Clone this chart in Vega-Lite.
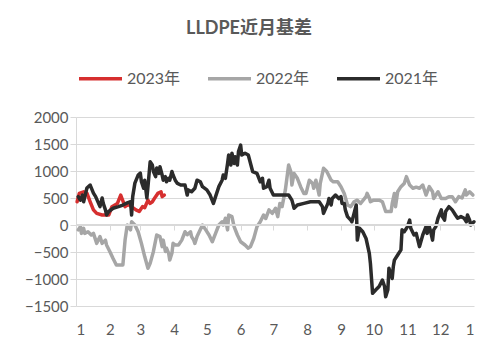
{
  "$schema": "https://vega.github.io/schema/vega-lite/v6.json",
  "width": 398,
  "height": 189,
  "autosize": {"type": "none"},
  "padding": {"left": 76, "top": 117, "right": 24, "bottom": 50},
  "background": "white",
  "config": {"view": {"stroke": null}, "font": "Lato",
    "axisY": {"values": [-1500,-1000,-500,0,500,1000,1500,2000], "format": "d", "labelOverlap": false, "labelBound": false, "grid": true, "gridColor": "#d9d9d9", "gridWidth": 1, "domain": true, "domainColor": "#d9d9d9", "tickColor": "#d9d9d9", "tickSize": 6, "labelPadding": 2, "labelFontSize": 15, "labelColor": "#595959", "labelFont": "Lato", "title": null}},
  "title": {"text": "LLDPE近月基差", "font": "Lato, Noto Sans CJK SC", "fontSize": 18, "fontWeight": "bold", "color": "#595959", "anchor": "middle", "dx": -26, "offset": 17},
  "data": {"values": [
    {"s":"2023年","d":1,"v":430},{"s":"2023年","d":3,"v":585},{"s":"2023年","d":7,"v":615},{"s":"2023年","d":10,"v":590},{"s":"2023年","d":13,"v":430},{"s":"2023年","d":16,"v":280},{"s":"2023年","d":19,"v":215},{"s":"2023年","d":24,"v":185},{"s":"2023年","d":30,"v":185},{"s":"2023年","d":33,"v":340},{"s":"2023年","d":38,"v":400},{"s":"2023年","d":41,"v":555},{"s":"2023年","d":42,"v":500},{"s":"2023年","d":45,"v":340},{"s":"2023年","d":48,"v":380},{"s":"2023年","d":55,"v":280},{"s":"2023年","d":58,"v":250},{"s":"2023年","d":61,"v":340},{"s":"2023年","d":63,"v":320},{"s":"2023年","d":66,"v":460},{"s":"2023年","d":68,"v":400},{"s":"2023年","d":70,"v":430},{"s":"2023年","d":73,"v":525},{"s":"2023年","d":75,"v":585},{"s":"2023年","d":78,"v":615},{"s":"2023年","d":79,"v":525},{"s":"2023年","d":81,"v":555},
    {"s":"2022年","d":2,"v":-90},{"s":"2022年","d":4,"v":-30},{"s":"2022年","d":5,"v":-155},{"s":"2022年","d":7,"v":-60},{"s":"2022年","d":8,"v":-155},{"s":"2022年","d":11,"v":-125},{"s":"2022年","d":14,"v":-185},{"s":"2022年","d":16,"v":-155},{"s":"2022年","d":19,"v":-340},{"s":"2022年","d":22,"v":-215},{"s":"2022年","d":24,"v":-340},{"s":"2022年","d":27,"v":-280},{"s":"2022年","d":28,"v":-370},{"s":"2022年","d":31,"v":-490},{"s":"2022年","d":34,"v":-620},{"s":"2022年","d":37,"v":-740},{"s":"2022年","d":43,"v":-740},{"s":"2022年","d":45,"v":-280},{"s":"2022年","d":47,"v":0},{"s":"2022年","d":50,"v":-90},{"s":"2022年","d":51,"v":60},{"s":"2022年","d":54,"v":0},{"s":"2022年","d":57,"v":-125},{"s":"2022年","d":60,"v":-340},{"s":"2022年","d":63,"v":-585},{"s":"2022年","d":66,"v":-800},{"s":"2022年","d":68,"v":-710},{"s":"2022年","d":71,"v":-490},{"s":"2022年","d":74,"v":-185},{"s":"2022年","d":77,"v":-215},{"s":"2022年","d":79,"v":-400},{"s":"2022年","d":80,"v":-280},{"s":"2022年","d":82,"v":-490},{"s":"2022年","d":83,"v":-430},{"s":"2022年","d":85,"v":-525},{"s":"2022年","d":86,"v":-650},{"s":"2022年","d":88,"v":-520},{"s":"2022年","d":89,"v":-340},{"s":"2022年","d":91,"v":-370},{"s":"2022年","d":94,"v":-370},{"s":"2022年","d":97,"v":-280},{"s":"2022年","d":100,"v":-125},{"s":"2022年","d":102,"v":-180},{"s":"2022年","d":105,"v":-125},{"s":"2022年","d":106,"v":-215},{"s":"2022年","d":108,"v":-280},{"s":"2022年","d":109,"v":-340},{"s":"2022年","d":111,"v":-215},{"s":"2022年","d":116,"v":0},{"s":"2022年","d":119,"v":-90},{"s":"2022年","d":122,"v":-185},{"s":"2022年","d":125,"v":-310},{"s":"2022年","d":128,"v":-155},{"s":"2022年","d":131,"v":0},{"s":"2022年","d":134,"v":60},{"s":"2022年","d":135,"v":0},{"s":"2022年","d":137,"v":125},{"s":"2022年","d":139,"v":-90},{"s":"2022年","d":140,"v":185},{"s":"2022年","d":143,"v":155},{"s":"2022年","d":145,"v":-30},{"s":"2022年","d":148,"v":-185},{"s":"2022年","d":151,"v":-310},{"s":"2022年","d":155,"v":-370},{"s":"2022年","d":158,"v":-430},{"s":"2022年","d":160,"v":-400},{"s":"2022年","d":163,"v":-250},{"s":"2022年","d":166,"v":-30},{"s":"2022年","d":169,"v":60},{"s":"2022年","d":172,"v":185},{"s":"2022年","d":174,"v":120},{"s":"2022年","d":177,"v":280},{"s":"2022年","d":180,"v":215},{"s":"2022年","d":183,"v":310},{"s":"2022年","d":185,"v":155},{"s":"2022年","d":187,"v":400},{"s":"2022年","d":189,"v":340},{"s":"2022年","d":192,"v":650},{"s":"2022年","d":195,"v":1110},{"s":"2022年","d":197,"v":990},{"s":"2022年","d":198,"v":740},{"s":"2022年","d":200,"v":955},{"s":"2022年","d":203,"v":865},{"s":"2022年","d":206,"v":710},{"s":"2022年","d":209,"v":585},{"s":"2022年","d":211,"v":585},{"s":"2022年","d":214,"v":830},{"s":"2022年","d":217,"v":770},{"s":"2022年","d":218,"v":680},{"s":"2022年","d":220,"v":830},{"s":"2022年","d":223,"v":555},{"s":"2022年","d":224,"v":770},{"s":"2022年","d":227,"v":1050},{"s":"2022年","d":230,"v":990},{"s":"2022年","d":234,"v":830},{"s":"2022年","d":236,"v":800},{"s":"2022年","d":240,"v":800},{"s":"2022年","d":243,"v":710},{"s":"2022年","d":246,"v":585},{"s":"2022年","d":249,"v":370},{"s":"2022年","d":252,"v":340},{"s":"2022年","d":255,"v":430},{"s":"2022年","d":258,"v":460},{"s":"2022年","d":261,"v":400},{"s":"2022年","d":266,"v":525},{"s":"2022年","d":267,"v":585},{"s":"2022年","d":269,"v":500},{"s":"2022年","d":270,"v":430},{"s":"2022年","d":273,"v":460},{"s":"2022年","d":278,"v":460},{"s":"2022年","d":281,"v":430},{"s":"2022年","d":284,"v":250},{"s":"2022年","d":289,"v":250},{"s":"2022年","d":290,"v":400},{"s":"2022年","d":292,"v":585},{"s":"2022年","d":293,"v":340},{"s":"2022年","d":295,"v":615},{"s":"2022年","d":298,"v":710},{"s":"2022年","d":301,"v":770},{"s":"2022年","d":303,"v":895},{"s":"2022年","d":306,"v":740},{"s":"2022年","d":309,"v":680},{"s":"2022年","d":312,"v":700},{"s":"2022年","d":315,"v":680},{"s":"2022年","d":318,"v":740},{"s":"2022年","d":321,"v":555},{"s":"2022年","d":324,"v":710},{"s":"2022年","d":327,"v":615},{"s":"2022年","d":328,"v":490},{"s":"2022年","d":332,"v":615},{"s":"2022年","d":335,"v":490},{"s":"2022年","d":339,"v":490},{"s":"2022年","d":342,"v":525},{"s":"2022年","d":345,"v":525},{"s":"2022年","d":348,"v":430},{"s":"2022年","d":351,"v":525},{"s":"2022年","d":354,"v":500},{"s":"2022年","d":357,"v":650},{"s":"2022年","d":358,"v":555},{"s":"2022年","d":361,"v":615},{"s":"2022年","d":364,"v":555},
    {"s":"2021年","d":2,"v":525},{"s":"2021年","d":4,"v":460},{"s":"2021年","d":6,"v":555},{"s":"2021年","d":7,"v":430},{"s":"2021年","d":10,"v":685},{"s":"2021年","d":13,"v":740},{"s":"2021年","d":16,"v":590},{"s":"2021年","d":18,"v":525},{"s":"2021年","d":22,"v":340},{"s":"2021年","d":24,"v":500},{"s":"2021年","d":25,"v":400},{"s":"2021年","d":27,"v":280},{"s":"2021年","d":28,"v":185},{"s":"2021年","d":30,"v":250},{"s":"2021年","d":34,"v":310},{"s":"2021年","d":39,"v":340},{"s":"2021年","d":43,"v":370},{"s":"2021年","d":47,"v":410},{"s":"2021年","d":50,"v":430},{"s":"2021年","d":51,"v":185},{"s":"2021年","d":52,"v":525},{"s":"2021年","d":54,"v":775},{"s":"2021年","d":57,"v":925},{"s":"2021年","d":59,"v":960},{"s":"2021年","d":60,"v":800},{"s":"2021年","d":62,"v":680},{"s":"2021年","d":63,"v":830},{"s":"2021年","d":65,"v":500},{"s":"2021年","d":66,"v":710},{"s":"2021年","d":68,"v":1170},{"s":"2021年","d":70,"v":1110},{"s":"2021年","d":71,"v":990},{"s":"2021年","d":73,"v":895},{"s":"2021年","d":74,"v":1055},{"s":"2021年","d":76,"v":955},{"s":"2021年","d":77,"v":1080},{"s":"2021年","d":79,"v":925},{"s":"2021年","d":80,"v":830},{"s":"2021年","d":82,"v":895},{"s":"2021年","d":83,"v":800},{"s":"2021年","d":85,"v":865},{"s":"2021年","d":86,"v":830},{"s":"2021年","d":88,"v":990},{"s":"2021年","d":89,"v":925},{"s":"2021年","d":91,"v":830},{"s":"2021年","d":93,"v":770},{"s":"2021年","d":96,"v":740},{"s":"2021年","d":100,"v":740},{"s":"2021年","d":102,"v":555},{"s":"2021年","d":103,"v":650},{"s":"2021年","d":106,"v":615},{"s":"2021年","d":109,"v":680},{"s":"2021年","d":111,"v":830},{"s":"2021年","d":114,"v":800},{"s":"2021年","d":116,"v":710},{"s":"2021年","d":120,"v":650},{"s":"2021年","d":123,"v":555},{"s":"2021年","d":126,"v":400},{"s":"2021年","d":128,"v":525},{"s":"2021年","d":131,"v":710},{"s":"2021年","d":134,"v":830},{"s":"2021年","d":135,"v":925},{"s":"2021年","d":137,"v":865},{"s":"2021年","d":139,"v":1140},{"s":"2021年","d":140,"v":1295},{"s":"2021年","d":142,"v":1110},{"s":"2021年","d":143,"v":1330},{"s":"2021年","d":145,"v":1140},{"s":"2021年","d":146,"v":1265},{"s":"2021年","d":148,"v":1110},{"s":"2021年","d":149,"v":1360},{"s":"2021年","d":151,"v":1480},{"s":"2021年","d":152,"v":1295},{"s":"2021年","d":155,"v":1330},{"s":"2021年","d":158,"v":1295},{"s":"2021年","d":162,"v":990},{"s":"2021年","d":166,"v":955},{"s":"2021年","d":169,"v":800},{"s":"2021年","d":171,"v":865},{"s":"2021年","d":172,"v":680},{"s":"2021年","d":175,"v":710},{"s":"2021年","d":177,"v":830},{"s":"2021年","d":178,"v":680},{"s":"2021年","d":181,"v":555},{"s":"2021年","d":185,"v":555},{"s":"2021年","d":195,"v":555},{"s":"2021年","d":198,"v":460},{"s":"2021年","d":200,"v":310},{"s":"2021年","d":203,"v":370},{"s":"2021年","d":209,"v":400},{"s":"2021年","d":215,"v":430},{"s":"2021年","d":223,"v":430},{"s":"2021年","d":226,"v":340},{"s":"2021年","d":227,"v":215},{"s":"2021年","d":231,"v":400},{"s":"2021年","d":232,"v":490},{"s":"2021年","d":234,"v":370},{"s":"2021年","d":235,"v":490},{"s":"2021年","d":238,"v":555},{"s":"2021年","d":241,"v":490},{"s":"2021年","d":243,"v":525},{"s":"2021年","d":244,"v":400},{"s":"2021年","d":246,"v":400},{"s":"2021年","d":247,"v":280},{"s":"2021年","d":249,"v":155},{"s":"2021年","d":252,"v":90},{"s":"2021年","d":253,"v":60},{"s":"2021年","d":255,"v":215},{"s":"2021年","d":257,"v":370},{"s":"2021年","d":258,"v":-280},{"s":"2021年","d":260,"v":-60},{"s":"2021年","d":263,"v":-125},{"s":"2021年","d":266,"v":-250},{"s":"2021年","d":269,"v":-525},{"s":"2021年","d":270,"v":-710},{"s":"2021年","d":272,"v":-1265},{"s":"2021年","d":275,"v":-1200},{"s":"2021年","d":278,"v":-1140},{"s":"2021年","d":281,"v":-1020},{"s":"2021年","d":283,"v":-1140},{"s":"2021年","d":284,"v":-1330},{"s":"2021年","d":286,"v":-1200},{"s":"2021年","d":287,"v":-800},{"s":"2021年","d":290,"v":-990},{"s":"2021年","d":291,"v":-770},{"s":"2021年","d":292,"v":-650},{"s":"2021年","d":295,"v":-555},{"s":"2021年","d":298,"v":-460},{"s":"2021年","d":299,"v":-90},{"s":"2021年","d":301,"v":-125},{"s":"2021年","d":304,"v":-30},{"s":"2021年","d":306,"v":90},{"s":"2021年","d":307,"v":-60},{"s":"2021年","d":310,"v":-185},{"s":"2021年","d":312,"v":-155},{"s":"2021年","d":315,"v":-400},{"s":"2021年","d":318,"v":-185},{"s":"2021年","d":321,"v":-30},{"s":"2021年","d":322,"v":-155},{"s":"2021年","d":324,"v":-30},{"s":"2021年","d":325,"v":-100},{"s":"2021年","d":327,"v":-280},{"s":"2021年","d":328,"v":-90},{"s":"2021年","d":330,"v":-30},{"s":"2021年","d":332,"v":125},{"s":"2021年","d":335,"v":280},{"s":"2021年","d":336,"v":155},{"s":"2021年","d":338,"v":90},{"s":"2021年","d":339,"v":250},{"s":"2021年","d":342,"v":340},{"s":"2021年","d":345,"v":280},{"s":"2021年","d":348,"v":185},{"s":"2021年","d":350,"v":125},{"s":"2021年","d":353,"v":155},{"s":"2021年","d":356,"v":125},{"s":"2021年","d":358,"v":60},{"s":"2021年","d":359,"v":185},{"s":"2021年","d":361,"v":90},{"s":"2021年","d":362,"v":0},{"s":"2021年","d":365,"v":60}
  ]},
  "layer": [
    {
      "mark": {"type": "line", "strokeWidth": 3.5, "strokeJoin": "round", "strokeCap": "round", "interpolate": "linear"},
      "encoding": {
        "x": {"field": "d", "type": "quantitative", "scale": {"domain": [0, 365], "nice": false, "zero": false},
          "axis": {"title": null, "values": [0,31,59,90,120,151,181,212,243,273,304,334,365], "labelExpr": "'' + (month(datetime(2021, 0, 1 + datum.value)) + 1)", "labelOverlap": false, "ticks": false, "domain": false, "grid": false, "labelPadding": 16, "labelFontSize": 15, "labelColor": "#595959", "labelFont": "Lato"}},
        "y": {"field": "v", "type": "quantitative", "scale": {"domain": [-1500, 2000], "nice": false}},
        "color": {"field": "s", "type": "nominal", "sort": ["2023年", "2022年", "2021年"],
          "scale": {"domain": ["2023年", "2022年", "2021年"], "range": ["#d62f2f", "#a6a6a6", "#2b2b2b"]},
          "legend": {"title": null, "orient": "none", "legendX": 1, "legendY": -62, "direction": "horizontal", "symbolType": "stroke", "symbolSize": 1849, "symbolStrokeWidth": 3.5, "labelFontSize": 16, "labelColor": "#595959", "labelFont": "Lato, Noto Sans CJK SC", "labelOffset": 3, "columnPadding": 20, "padding": 0}},
        "order": {"field": "d", "type": "quantitative"}
      }
    },
    {
      "mark": {"type": "rule", "color": "#d9d9d9", "strokeWidth": 1},
      "encoding": {
        "x": {"datum": 0, "type": "quantitative", "scale": {"domain": [0, 365], "nice": false, "zero": false},
          "axis": {"orient": "bottom", "offset": -81, "title": null, "values": [0,31,59,90,120,151,181,212,243,273,304,334,365], "labels": false, "ticks": true, "tickSize": 5, "tickColor": "#d9d9d9", "domain": false, "grid": false}},
        "x2": {"datum": 365},
        "y": {"datum": 0, "type": "quantitative"}
      }
    }
  ],
  "resolve": {"axis": {"x": "independent"}}
}
